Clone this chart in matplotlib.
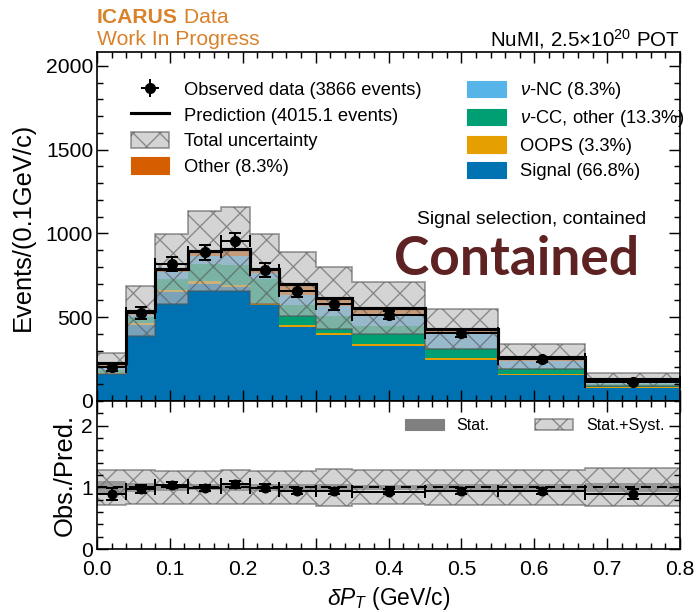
import matplotlib
matplotlib.use("Agg")
import matplotlib.pyplot as plt
from matplotlib.patches import Patch
from matplotlib.lines import Line2D
from matplotlib.ticker import MultipleLocator
import numpy as np

plt.rcParams['font.family'] = ['Liberation Sans', 'DejaVu Sans']
plt.rcParams['mathtext.fontset'] = 'custom'
plt.rcParams['mathtext.rm'] = 'Liberation Sans'
plt.rcParams['mathtext.it'] = 'Liberation Sans:italic'
plt.rcParams['hatch.linewidth'] = 1.2

# binning in delta pT (GeV/c)
edges = [0.0, 0.04, 0.08, 0.125, 0.17, 0.21, 0.25, 0.30, 0.35, 0.45, 0.55, 0.67, 0.80]

# stacked prediction, events / (0.1 GeV/c)
signal = [160, 455, 650, 700, 680, 570, 443, 395, 328, 245, 153, 80]
oops = [5, 10, 12, 15, 15, 12, 12, 12, 12, 10, 8, 5]
nu_cc = [20, 35, 66, 105, 115, 146, 115, 102, 109, 64, 38, 18]
nu_nc = [25, 15, 40, 45, 55, 35, 65, 59, 70, 80, 40, 15]
other = [15, 24, 20, 33, 43, 25, 63, 46, 36, 30, 26, 12]
total_unc = [64, 149, 209, 239, 249, 209, 190, 184, 153, 120, 74, 40]

data = [200, 523, 818, 888, 954, 782, 654, 578, 515, 403, 249, 116]
data_err = [22, 36, 43, 44, 49, 44, 36, 34, 23, 20, 14, 10]

comp_names = ['Signal (66.8%)', 'OOPS (3.3%)', r'$\nu$-CC, other (13.3%)',
              r'$\nu$-NC (8.3%)', 'Other (8.3%)']
comp_colors = ['#0072B2', '#E69F00', '#009E73', '#56B4E9', '#D55E00']

edges = np.array(edges)
centers = 0.5 * (edges[1:] + edges[:-1])
halfw = 0.5 * (edges[1:] - edges[:-1])
comps = np.array([signal, oops, nu_cc, nu_nc, other], dtype=float)
pred = comps.sum(axis=0)
unc = np.array(total_unc, dtype=float)
data = np.array(data, dtype=float)
data_err = np.array(data_err, dtype=float)

DPI = 80
fig = plt.figure(figsize=(697 / DPI, 612 / DPI), dpi=DPI)
ax = fig.add_axes([0.1392, 0.3448, 0.8364, 0.5702])
rax = fig.add_axes([0.1392, 0.1029, 0.8364, 0.2419], sharex=ax)

unc_face = (0.74, 0.74, 0.74, 0.65)
unc_edge = (0.33, 0.33, 0.33, 0.6)

# stacked components
base = np.zeros(len(pred))
for vals, col in zip(comps, comp_colors):
    ax.stairs(base + vals, edges, baseline=base.copy(), fill=True, color=col, lw=0)
    base = base + vals

ax.stairs(pred + unc, edges, baseline=pred - unc, fill=True, facecolor=unc_face,
          edgecolor=unc_edge, hatch='x', lw=1.5)
ax.stairs(pred, edges, baseline=None, color='k', lw=2.8)
ax.errorbar(centers, data, xerr=halfw, yerr=data_err, fmt='o', color='k', ms=9,
            elinewidth=1.8, capsize=5, capthick=1.8, zorder=5)

ax.set_xlim(0, 0.8)
ax.set_ylim(0, 2083)
ax.set_ylabel('Events/(0.1GeV/c)', fontsize=23, labelpad=10)
ax.yaxis.set_major_locator(MultipleLocator(500))
ax.yaxis.set_minor_locator(MultipleLocator(100))
ax.xaxis.set_major_locator(MultipleLocator(0.1))
ax.xaxis.set_minor_locator(MultipleLocator(0.02))
ax.tick_params(labelbottom=False)

# legend
eb = ax.errorbar([], [], xerr=[], yerr=[], fmt='o', color='k', ms=9, elinewidth=1.8,
                 capsize=5, capthick=1.8)
handles = [eb,
           Line2D([], [], color='k', lw=2.8),
           Patch(facecolor=unc_face, edgecolor=unc_edge, hatch='x', lw=1.5),
           Patch(color=comp_colors[4]),
           Patch(color=comp_colors[3]),
           Patch(color=comp_colors[2]),
           Patch(color=comp_colors[1]),
           Patch(color=comp_colors[0])]
labels = ['Observed data (3866 events)', 'Prediction (4015.1 events)', 'Total uncertainty',
          comp_names[4], comp_names[3], comp_names[2], comp_names[1], comp_names[0]]
ax.legend(handles, labels, ncol=2, loc='upper left', bbox_to_anchor=(0.045, 0.94),
          frameon=False, fontsize=16.5, handlelength=2.1, handleheight=1.0,
          handletextpad=0.8, columnspacing=2.5, labelspacing=0.38, borderaxespad=0)

ax.text(0.746, 0.52, 'Signal selection, contained', transform=ax.transAxes,
        ha='center', va='center', fontsize=17.3)
ax.text(0.72, 0.405, 'Contained', transform=ax.transAxes, ha='center', va='center',
        fontsize=48, fontweight='bold', family='Lato', color='#5E2222')

# ratio panel
ratio = data / pred
ratio_err = data_err / pred
syst_frac = unc / pred
stat_frac = 1.0 / np.sqrt(pred * (edges[1:] - edges[:-1]) / 0.1)

rax.stairs(1 + syst_frac, edges, baseline=1 - syst_frac, fill=True, facecolor=unc_face,
           edgecolor=unc_edge, hatch='x', lw=1.5)
rax.stairs(1 + stat_frac, edges, baseline=1 - stat_frac, fill=True,
           color=(0.45, 0.45, 0.45, 0.6), lw=0)
rax.axhline(1, color='k', ls='--', lw=1.8, dashes=(5, 3))
rax.errorbar(centers, ratio, xerr=halfw, yerr=ratio_err, fmt='o', color='k', ms=8,
             elinewidth=1.8, capsize=5, capthick=1.8, zorder=5)
rax.set_ylim(0, 2.4)
rax.yaxis.set_major_locator(MultipleLocator(1))
rax.yaxis.set_minor_locator(MultipleLocator(0.2))
rax.set_ylabel('Obs./Pred.', fontsize=23)
rax.set_xlabel(r'$\delta P_T$ (GeV/c)', fontsize=20.5, labelpad=5)
rax.legend([Patch(color='#808080'),
            Patch(facecolor=unc_face, edgecolor=unc_edge, hatch='x', lw=1.5)],
           ['Stat.', 'Stat.+Syst.'], ncol=2, loc='upper right',
           bbox_to_anchor=(0.985, 0.93), frameon=False, fontsize=14.5,
           handlelength=2.4, handletextpad=0.8, columnspacing=2.8, borderaxespad=0)

for a in (ax, rax):
    a.tick_params(which='both', direction='in', top=True, right=True, labelsize=19,
                  width=1.3)
    a.tick_params(which='major', length=10)
    a.tick_params(which='minor', length=5)
    for s in a.spines.values():
        s.set_linewidth(1.5)
rax.tick_params(axis='x', pad=10)
fig.align_ylabels([ax, rax])

# header
orange = '#D9822B'
t1 = fig.text(0.139, 0.972, 'ICARUS', color=orange, fontsize=19, fontweight='bold',
              va='center', ha='left')
fig.text(0.139, 0.936, 'Work In Progress', color=orange, fontsize=19, va='center', ha='left')
ax.annotate(' Data', xy=(1, 0), xycoords=t1, va='bottom', ha='left', color=orange,
            fontsize=19, annotation_clip=False)
fig.text(0.9756, 0.936, r'NuMI, 2.5$\times$10$^{20}$ POT', fontsize=18.5, va='center', ha='right')

fig.savefig('out.png', dpi=DPI)
